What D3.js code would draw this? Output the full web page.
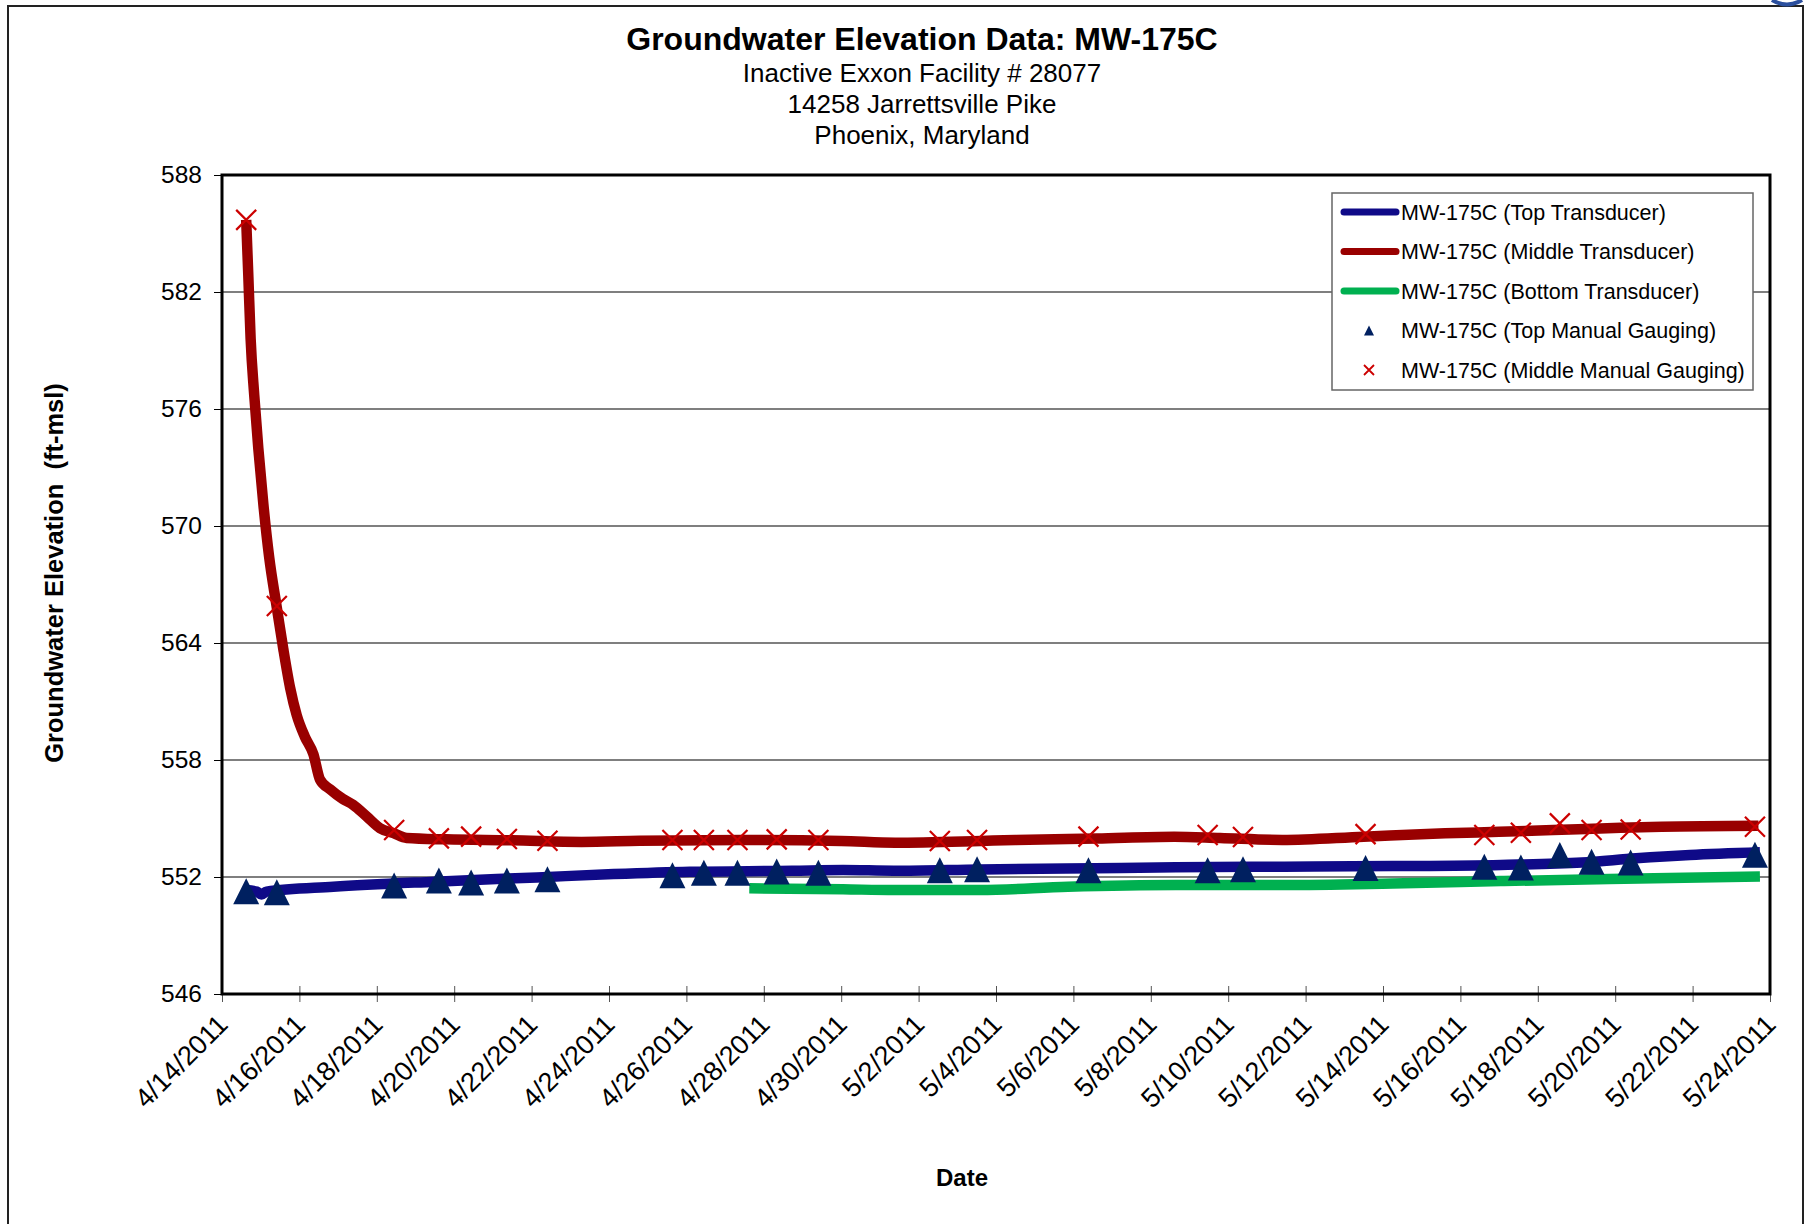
<!DOCTYPE html>
<html>
<head>
<meta charset="utf-8">
<script src="https://cdn.jsdelivr.net/npm/d3@7"></script>
<style>
  body { margin: 0; background: #fff; }
  svg text { font-family: "Liberation Sans", Arial, sans-serif; }
</style>
</head>
<body>
<svg id="chart"></svg>
<script>
var width = 1808,
height = 1224;

// x axis tick labels (every 2 days)
var tickLabels = ["4/14/2011","4/16/2011","4/18/2011","4/20/2011","4/22/2011","4/24/2011","4/26/2011",
  "4/28/2011","4/30/2011","5/2/2011","5/4/2011","5/6/2011","5/8/2011","5/10/2011","5/12/2011",
  "5/14/2011","5/16/2011","5/18/2011","5/20/2011","5/22/2011","5/24/2011"];
var yTicks = [546, 552, 558, 564, 570, 576, 582, 588];

// transducer readings
var topDates = ["2011-04-14T15:00","2011-04-14T21:35","2011-04-15T00:30","2011-04-15T03:35","2011-04-16T21:00",
  "2011-04-19T12:00","2011-04-22T03:20","2011-04-24T02:50","2011-04-26T02:10","2011-04-28T17:30",
  "2011-04-30T01:10","2011-05-01T08:40","2011-05-03T14:10","2011-05-06T13:25","2011-05-08T15:35",
  "2011-05-11T10:50","2011-05-14T06:00","2011-05-17T01:00","2011-05-19T03:20","2011-05-20T13:00",
  "2011-05-21T22:20","2011-05-23T17:45"];
var topValues = [551.33,551.25,551.10,551.25,551.50,551.76,551.98,552.15,552.27,552.32,
  552.36,552.32,552.39,552.45,552.50,552.53,552.56,552.62,552.74,552.96,553.13,553.27];

var middleDates = ["2011-04-14T15:00","2011-04-14T16:20","2011-04-14T17:45","2011-04-14T20:00","2011-04-14T22:30",
  "2011-04-15T01:40","2011-04-15T05:15","2011-04-15T09:50","2011-04-15T14:00","2011-04-15T18:15",
  "2011-04-15T22:20","2011-04-16T03:20","2011-04-16T08:40","2011-04-16T12:45","2011-04-16T19:00",
  "2011-04-17T03:00","2011-04-17T09:20","2011-04-17T17:45","2011-04-18T02:00","2011-04-18T10:20",
  "2011-04-18T18:30","2011-04-19T19:00","2011-04-21T12:00","2011-04-23T07:00","2011-04-24T19:00",
  "2011-04-27T09:30","2011-04-30T00:00","2011-05-01T09:30","2011-05-03T14:30","2011-05-04T12:00",
  "2011-05-06T14:30","2011-05-08T14:30","2011-05-09T19:00","2011-05-11T09:30","2011-05-13T12:00",
  "2011-05-15T14:30","2011-05-17T00:00","2011-05-18T09:30","2011-05-19T19:00","2011-05-21T04:50",
  "2011-05-23T16:50"];
var middleValues = [585.7,582.8,579.6,576.7,574.0,571.1,568.4,565.9,563.7,561.7,
  560.3,559.2,558.3,557.0,556.5,556.0,555.7,555.1,554.5,554.25,
  554.0,553.93,553.88,553.8,553.86,553.9,553.85,553.76,553.85,553.9,
  553.98,554.07,554.0,553.9,554.07,554.24,554.32,554.41,554.5,554.58,554.63];

var bottomDates = ["2011-04-27T15:00","2011-04-30T01:10","2011-05-01T08:40","2011-05-03T14:10","2011-05-05T20:40",
  "2011-05-08T15:35","2011-05-11T10:50","2011-05-14T06:00","2011-05-17T01:00","2011-05-19T20:10",
  "2011-05-23T17:45"];
var bottomValues = [551.42,551.37,551.33,551.33,551.50,551.59,551.59,551.67,551.79,551.90,552.02];

// manual gauging events
var gaugeDates = ["2011-04-14T15:00","2011-04-15T10:00","2011-04-18T10:45","2011-04-19T14:30","2011-04-20T10:30",
  "2011-04-21T08:40","2011-04-22T09:50","2011-04-25T15:20","2011-04-26T10:50","2011-04-27T07:40",
  "2011-04-28T08:00","2011-04-29T09:50","2011-05-02T13:10","2011-05-03T12:15","2011-05-06T09:20",
  "2011-05-09T11:15","2011-05-10T09:10","2011-05-13T13:10","2011-05-16T14:50","2011-05-17T13:30",
  "2011-05-18T13:40","2011-05-19T09:20","2011-05-20T09:35","2011-05-23T14:40"];
var topManual = [551.27,551.22,551.56,551.82,551.72,551.82,551.88,552.09,552.22,552.22,
  552.28,552.22,552.35,552.40,552.35,552.35,552.40,552.46,552.53,552.49,
  553.13,552.78,552.74,553.14];
var middleManual = [585.7,565.9,554.41,553.98,554.07,553.95,553.86,553.9,553.9,553.9,
  553.93,553.9,553.85,553.9,554.07,554.15,554.05,554.2,554.15,554.27,
  554.75,554.41,554.44,554.58];

var seriesNames = ["MW-175C (Top Transducer)","MW-175C (Middle Transducer)","MW-175C (Bottom Transducer)",
  "MW-175C (Top Manual Gauging)","MW-175C (Middle Manual Gauging)"];

var parseT = d3.timeParse("%Y-%m-%dT%H:%M");
var parseTick = d3.timeParse("%m/%d/%Y");

function zip(dates, values){
  return dates.map(function(d, i){ return {date: parseT(d), value: values[i]}; });
}

var plotLeft = 222, plotRight = 1770, plotTop = 175, plotBottom = 994;

var svg = d3.select("#chart").attr("width", width).attr("height", height);

// outer chart border
svg.append("rect").attr("x", 8).attr("y", 6).attr("width", 1795).attr("height", 1240)
  .attr("fill", "#fff").attr("stroke", "#222").attr("stroke-width", 2);
// clipped corner of the logo at top right
svg.append("path").attr("d", "M1772,0 Q1787,9 1802,0").attr("fill", "none")
  .attr("stroke", "#2b4f9e").attr("stroke-width", 4);

var x = d3.scaleTime()
  .domain([parseTick(tickLabels[0]), parseTick(tickLabels[tickLabels.length-1])])
  .range([plotLeft, plotRight]);
var y = d3.scaleLinear().domain([546, 588]).range([plotBottom, plotTop]);

// titles
var titles = svg.append("g").attr("text-anchor", "middle");
titles.append("text").attr("x", 922).attr("y", 50).style("font-size", "32px").style("font-weight", "bold")
  .text("Groundwater Elevation Data: MW-175C");
["Inactive Exxon Facility # 28077","14258 Jarrettsville Pike","Phoenix, Maryland"].forEach(function(t, i){
  titles.append("text").attr("x", 922).attr("y", 82 + i*31).style("font-size", "26px").text(t);
});

// gridlines
svg.append("g").selectAll("line").data(yTicks.slice(1, -1)).enter().append("line")
  .attr("x1", plotLeft).attr("x2", plotRight)
  .attr("y1", function(d){ return y(d); }).attr("y2", function(d){ return y(d); })
  .attr("stroke", "#000").attr("stroke-width", 1.2);

// y axis
var yAxis = svg.append("g").attr("transform", "translate(" + plotLeft + ",0)")
  .call(d3.axisLeft(y).tickValues(yTicks).tickSize(8).tickPadding(12).tickFormat(d3.format("d")));
yAxis.select(".domain").remove();
yAxis.selectAll(".tick line").attr("stroke", "#000");
yAxis.selectAll("text").style("font-size", "24.5px").attr("fill", "#000");

// x axis
var xAxis = svg.append("g").attr("transform", "translate(0," + plotBottom + ")")
  .call(d3.axisBottom(x).tickValues(tickLabels.map(parseTick)).tickSizeInner(8).tickSizeOuter(0)
    .tickFormat(function(d, i){ return tickLabels[i]; }));
xAxis.select(".domain").remove();
xAxis.selectAll(".tick line").attr("y1", -8).attr("y2", 8).attr("stroke", "#555");
xAxis.selectAll("text").style("font-size", "27px").attr("fill", "#000")
  .attr("text-anchor", "end").attr("dy", null).attr("y", 0)
  .attr("transform", "translate(7,32) rotate(-45)");

// axis titles
svg.append("text").attr("transform", "translate(63,573) rotate(-90)").attr("text-anchor", "middle")
  .style("font-size", "25.5px").style("font-weight", "bold").style("white-space", "pre")
  .text("Groundwater Elevation  (ft-msl)");
svg.append("text").attr("x", 962).attr("y", 1186).attr("text-anchor", "middle")
  .style("font-size", "24px").style("font-weight", "bold").text("Date");

// transducer lines
var line = d3.line().curve(d3.curveMonotoneX)
  .x(function(d){ return x(d.date); }).y(function(d){ return y(d.value); });
var lineSeries = [
  {data: zip(topDates, topValues), color: "#0f0a88"},
  {data: zip(middleDates, middleValues), color: "#990000"},
  {data: zip(bottomDates, bottomValues), color: "#00b050"}
];
svg.append("g").selectAll("path").data(lineSeries).enter().append("path")
  .attr("d", function(d){ return line(d.data); })
  .attr("fill", "none").attr("stroke", function(d){ return d.color; })
  .attr("stroke-width", 10.5).attr("stroke-linejoin", "round").attr("stroke-linecap", "butt");

// manual gauging markers
function triangle(s){ return "M0," + (-s) + "L" + s + "," + s + "L" + (-s) + "," + s + "Z"; }
function cross(s){ return "M" + (-s) + "," + (-s) + "L" + s + "," + s + "M" + (-s) + "," + s + "L" + s + "," + (-s); }

svg.append("g").selectAll("path").data(zip(gaugeDates, topManual)).enter().append("path")
  .attr("transform", function(d){ return "translate(" + x(d.date) + "," + y(d.value) + ")"; })
  .attr("d", triangle(13)).attr("fill", "#002060");
svg.append("g").selectAll("path").data(zip(gaugeDates, middleManual)).enter().append("path")
  .attr("transform", function(d){ return "translate(" + x(d.date) + "," + y(d.value) + ")"; })
  .attr("d", cross(10)).attr("fill", "none").attr("stroke", "#cc0000").attr("stroke-width", 2.2);

// plot frame
svg.append("rect").attr("x", plotLeft).attr("y", plotTop)
  .attr("width", plotRight - plotLeft).attr("height", plotBottom - plotTop)
  .attr("fill", "none").attr("stroke", "#000").attr("stroke-width", 3);

// legend
var legend = svg.append("g").attr("transform", "translate(1332,193)");
legend.append("rect").attr("width", 421).attr("height", 197).attr("fill", "#fff")
  .attr("stroke", "#666").attr("stroke-width", 1.5);
var rows = legend.selectAll(".legend").data(seriesNames).enter().append("g")
  .attr("class", "legend")
  .attr("transform", function(d, i){ return "translate(0," + (19 + i * 39.5) + ")"; });
rows.filter(function(d, i){ return i < 3; }).append("line")
  .attr("x1", 12).attr("x2", 64).attr("stroke-width", 7).attr("stroke-linecap", "round")
  .attr("stroke", function(d, i){ return lineSeries[i].color; });
rows.filter(function(d, i){ return i == 3; }).append("path")
  .attr("transform", "translate(37,0)").attr("d", triangle(5)).attr("fill", "#002060");
rows.filter(function(d, i){ return i == 4; }).append("path")
  .attr("transform", "translate(37,0)").attr("d", cross(5)).attr("fill", "none")
  .attr("stroke", "#cc0000").attr("stroke-width", 1.8);
rows.append("text").attr("x", 69).attr("dy", "0.35em").style("font-size", "21.5px")
  .text(function(d){ return d; });
</script>
</body>
</html>
